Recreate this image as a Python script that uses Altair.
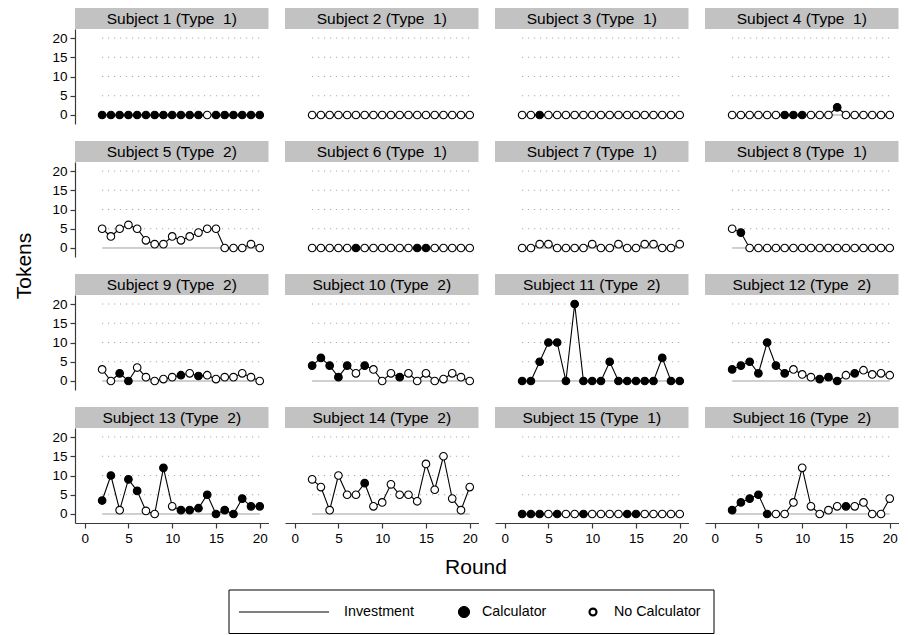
import altair as alt
import pandas as pd

# ---------------- data ----------------
ROUNDS = [2, 3, 4, 5, 6, 7, 8, 9, 10, 11, 12, 13, 14, 15, 16, 17, 18, 19, 20]
SUBJECT_TYPES = [1, 1, 1, 1, 2, 1, 1, 1, 2, 2, 2, 2, 2, 2, 1, 2]
Y_TICKS = [0, 5, 10, 15, 20]
X_TICKS = [0, 5, 10, 15, 20]
LEGEND_LABELS = ["Investment", "Calculator", "No Calculator"]

tok01 = [0, 0, 0, 0, 0, 0, 0, 0, 0, 0, 0, 0, 0, 0, 0, 0, 0, 0, 0]
cal01 = [1, 1, 1, 1, 1, 1, 1, 1, 1, 1, 1, 1, 0, 1, 1, 1, 1, 1, 1]
tok02 = [0, 0, 0, 0, 0, 0, 0, 0, 0, 0, 0, 0, 0, 0, 0, 0, 0, 0, 0]
cal02 = [0, 0, 0, 0, 0, 0, 0, 0, 0, 0, 0, 0, 0, 0, 0, 0, 0, 0, 0]
tok03 = [0, 0, 0, 0, 0, 0, 0, 0, 0, 0, 0, 0, 0, 0, 0, 0, 0, 0, 0]
cal03 = [0, 0, 1, 0, 0, 0, 0, 0, 0, 0, 0, 0, 0, 0, 0, 0, 0, 0, 0]
tok04 = [0, 0, 0, 0, 0, 0, 0, 0, 0, 0, 0, 0, 2, 0, 0, 0, 0, 0, 0]
cal04 = [0, 0, 0, 0, 0, 0, 1, 1, 1, 0, 0, 0, 1, 0, 0, 0, 0, 0, 0]
tok05 = [5, 3, 5, 6, 5, 2, 1, 1, 3, 2, 3, 4, 5, 5, 0, 0, 0, 1, 0]
cal05 = [0, 0, 0, 0, 0, 0, 0, 0, 0, 0, 0, 0, 0, 0, 0, 0, 0, 0, 0]
tok06 = [0, 0, 0, 0, 0, 0, 0, 0, 0, 0, 0, 0, 0, 0, 0, 0, 0, 0, 0]
cal06 = [0, 0, 0, 0, 0, 1, 0, 0, 0, 0, 0, 0, 1, 1, 0, 0, 0, 0, 0]
tok07 = [0, 0, 1, 1, 0, 0, 0, 0, 1, 0, 0, 1, 0, 0, 1, 1, 0, 0, 1]
cal07 = [0, 0, 0, 0, 0, 0, 0, 0, 0, 0, 0, 0, 0, 0, 0, 0, 0, 0, 0]
tok08 = [5, 4, 0, 0, 0, 0, 0, 0, 0, 0, 0, 0, 0, 0, 0, 0, 0, 0, 0]
cal08 = [0, 1, 0, 0, 0, 0, 0, 0, 0, 0, 0, 0, 0, 0, 0, 0, 0, 0, 0]
tok09 = [3, 0, 2, 0, 3.5, 1, 0, 0.5, 1, 1.5, 2, 1.3, 1.5, 0.5, 1, 1, 2, 1, 0]
cal09 = [0, 0, 1, 1, 0, 0, 0, 0, 0, 1, 0, 1, 0, 0, 0, 0, 0, 0, 0]
tok10 = [4, 6, 4, 1, 4, 2, 4, 3, 0, 2, 1, 2, 0, 2, 0, 0.5, 2, 1, 0]
cal10 = [1, 1, 1, 1, 1, 0, 1, 0, 0, 0, 1, 0, 0, 0, 0, 0, 0, 0, 0]
tok11 = [0, 0, 5, 10, 10, 0, 20, 0, 0, 0, 5, 0, 0, 0, 0, 0, 6, 0, 0]
cal11 = [1, 1, 1, 1, 1, 1, 1, 1, 1, 1, 1, 1, 1, 1, 1, 1, 1, 1, 1]
tok12 = [3, 4, 5, 2, 10, 4, 2, 3, 1.7, 1, 0.5, 1, 0, 1.5, 2, 2.8, 1.7, 2, 1.5]
cal12 = [1, 1, 1, 1, 1, 1, 1, 0, 0, 0, 1, 1, 1, 0, 1, 0, 0, 0, 0]
tok13 = [3.5, 10, 1, 9, 6, 0.8, 0, 12, 2, 1, 1, 1.5, 5, 0, 1, 0, 4, 2, 2]
cal13 = [1, 1, 0, 1, 1, 0, 0, 1, 0, 1, 1, 1, 1, 1, 1, 1, 1, 1, 1]
tok14 = [9, 7, 1, 10, 5, 5, 8, 2, 3, 7.7, 5, 5, 3.3, 13, 6.3, 15, 4, 1, 7]
cal14 = [0, 0, 0, 0, 0, 0, 1, 0, 0, 0, 0, 0, 0, 0, 0, 0, 0, 0, 0]
tok15 = [0, 0, 0, 0, 0, 0, 0, 0, 0, 0, 0, 0, 0, 0, 0, 0, 0, 0, 0]
cal15 = [1, 1, 1, 0, 1, 0, 0, 1, 0, 0, 0, 0, 1, 1, 0, 0, 0, 0, 0]
tok16 = [1, 3, 4, 5, 0, 0, 0, 3, 12, 2, 0, 1, 2, 2, 2, 3, 0, 0, 4]
cal16 = [1, 1, 1, 1, 1, 0, 0, 0, 0, 0, 0, 0, 0, 1, 0, 0, 0, 0, 0]

TOKENS = [tok01, tok02, tok03, tok04, tok05, tok06, tok07, tok08,
          tok09, tok10, tok11, tok12, tok13, tok14, tok15, tok16]
CALC = [cal01, cal02, cal03, cal04, cal05, cal06, cal07, cal08,
        cal09, cal10, cal11, cal12, cal13, cal14, cal15, cal16]

# ---------------- layout / style ----------------
FONT = "Liberation Sans"
PANEL_W = 193.5
PANEL_H = 95
HEADER_H = 21
NCOLS = 4
COL_GAP = 16
ROW_GAP = 17

records = []
for i in range(len(TOKENS)):
    subj = i + 1
    label = f"Subject {subj} (Type\u00a0 {SUBJECT_TYPES[i]})"
    r, c = divmod(i, NCOLS)
    for rd, tk, cl in zip(ROUNDS, TOKENS[i], CALC[i]):
        records.append(dict(kind="obs", subject=subj, row=r, col=c, label=label,
                            round=rd, tokens=tk,
                            calc=LEGEND_LABELS[1] if cl else LEGEND_LABELS[2]))
    for gy in Y_TICKS:
        records.append(dict(kind="grid", subject=subj, row=r, col=c, label=label,
                            gy=gy, gx=ROUNDS[0], gx2=ROUNDS[-1]))
df = pd.DataFrame(records)

x_scale = alt.Scale(domain=[-1.1, 21.0], nice=False, zero=False)
y_scale = alt.Scale(domain=[-2.34, 22.34], nice=False, zero=False)
AXIS_COLOR = "#3a3a3a"
x_axis = alt.Axis(values=X_TICKS, title=None, grid=False, domainColor=AXIS_COLOR,
                  tickColor=AXIS_COLOR, tickSize=5, labelFontSize=13.5, labelFont=FONT,
                  labelColor="black", labelPadding=3, domainWidth=1.2, tickWidth=1.2)
y_axis = alt.Axis(values=Y_TICKS, title=None, grid=False, domainColor=AXIS_COLOR,
                  tickColor=AXIS_COLOR, tickSize=5, labelFontSize=13.5, labelFont=FONT,
                  labelColor="black", labelPadding=3, domainWidth=1.2, tickWidth=1.2,
                  labelAngle=0)

is_obs = alt.datum.kind == "obs"

grid_dots = alt.Chart().mark_rule(color="#9a9a9a", strokeWidth=1, strokeDash=[1, 5]).encode(
    x=alt.X("gx:Q", scale=x_scale, axis=x_axis),
    x2="gx2:Q",
    y=alt.Y("gy:Q", scale=y_scale, axis=y_axis),
).transform_filter((alt.datum.kind == "grid") & (alt.datum.gy > 0))

zero_line = alt.Chart().mark_rule(color="#a0a0a0", strokeWidth=1).encode(
    x=alt.X("gx:Q", scale=x_scale, axis=x_axis),
    x2="gx2:Q",
    y=alt.Y("gy:Q", scale=y_scale, axis=y_axis),
).transform_filter((alt.datum.kind == "grid") & (alt.datum.gy == 0))

line = alt.Chart().mark_line(color="black", strokeWidth=1.1).encode(
    x=alt.X("round:Q", scale=x_scale, axis=x_axis),
    y=alt.Y("tokens:Q", scale=y_scale, axis=y_axis),
).transform_filter(is_obs)

points = alt.Chart().mark_point(shape="circle", filled=True, size=58, stroke="black",
                                strokeWidth=1.1, opacity=1).encode(
    x=alt.X("round:Q", scale=x_scale, axis=x_axis),
    y=alt.Y("tokens:Q", scale=y_scale, axis=y_axis),
    fill=alt.Fill("calc:N", scale=alt.Scale(domain=LEGEND_LABELS[1:], range=["black", "white"]),
                  legend=None),
).transform_filter(is_obs)

header_rect = alt.Chart().mark_rect(color="#c2c2c2").encode(
    x=alt.value(0), x2=alt.value(PANEL_W),
    y=alt.value(-HEADER_H), y2=alt.value(0),
).transform_filter(is_obs & (alt.datum["round"] == ROUNDS[0]))

header_text = alt.Chart().mark_text(font=FONT, fontSize=15.5, color="black",
                                    align="center", baseline="middle").encode(
    x=alt.value(PANEL_W / 2), y=alt.value(-HEADER_H / 2 + 0.5),
    text="label:N",
).transform_filter(is_obs & (alt.datum["round"] == ROUNDS[0]))

panel = alt.layer(grid_dots, zero_line, line, points, header_rect, header_text,
                  data=df).properties(width=PANEL_W, height=PANEL_H)

grid_chart = panel.facet(
    row=alt.Row("row:O", title="Tokens",
                header=alt.Header(labels=False, titleOrient="left", titleFont=FONT,
                                  titleFontSize=21, titleFontWeight="normal",
                                  titleColor="black", titlePadding=6)),
    column=alt.Column("col:O", title=None, header=alt.Header(labels=False)),
    spacing={"row": ROW_GAP, "column": COL_GAP},
)

# ---------------- legend (and x title) ----------------
# legend x-coordinates are relative to the left edge of the first panel column
LEG_W = 4 * PANEL_W + 3 * COL_GAP
LEG_H = 89
BOX_X0, BOX_X1, BOX_Y0 = 154, 639, 45
ITEM_Y = 67
one = pd.DataFrame({"k": [0]})

leg_box = alt.Chart(one).mark_rect(fillOpacity=0, stroke="black", strokeWidth=1).encode(
    x=alt.value(BOX_X0), x2=alt.value(BOX_X1), y=alt.value(BOX_Y0), y2=alt.value(LEG_H - 0.5))
x_title = alt.Chart(one).mark_text(font=FONT, fontSize=21, color="black", align="center",
                                   baseline="middle").encode(
    x=alt.value(401), y=alt.value(23), text=alt.value("Round"))
leg_line = alt.Chart(one).mark_rule(color="black", strokeWidth=1.2).encode(
    x=alt.value(164), x2=alt.value(254), y=alt.value(ITEM_Y))
leg_pt1 = alt.Chart(one).mark_point(shape="circle", filled=True, size=125, fill="black",
                                    stroke="black", strokeWidth=1, opacity=1).encode(
    x=alt.value(389), y=alt.value(ITEM_Y))
leg_pt2 = alt.Chart(one).mark_point(shape="circle", filled=True, size=48, fill="white",
                                    stroke="black", strokeWidth=2.2, opacity=1).encode(
    x=alt.value(518), y=alt.value(ITEM_Y))
leg_t1 = alt.Chart(one).mark_text(font=FONT, fontSize=14.3, align="left", baseline="middle",
                                  color="black").encode(
    x=alt.value(269), y=alt.value(ITEM_Y), text=alt.value(LEGEND_LABELS[0]))
leg_t2 = alt.Chart(one).mark_text(font=FONT, fontSize=14.3, align="left", baseline="middle",
                                  color="black").encode(
    x=alt.value(407), y=alt.value(ITEM_Y), text=alt.value(LEGEND_LABELS[1]))
leg_t3 = alt.Chart(one).mark_text(font=FONT, fontSize=14.3, align="left", baseline="middle",
                                  color="black").encode(
    x=alt.value(539), y=alt.value(ITEM_Y), text=alt.value(LEGEND_LABELS[2]))

legend_chart = alt.layer(leg_box, x_title, leg_line, leg_pt1, leg_pt2, leg_t1, leg_t2,
                         leg_t3).properties(width=LEG_W, height=LEG_H)

chart = alt.vconcat(grid_chart, legend_chart, spacing=0).properties(
    padding={"left": 5, "top": 0, "right": 0, "bottom": 0},
    background="white",
).configure_view(stroke=None)

chart.save("out.html", embed_options={"renderer": "svg", "actions": False})
